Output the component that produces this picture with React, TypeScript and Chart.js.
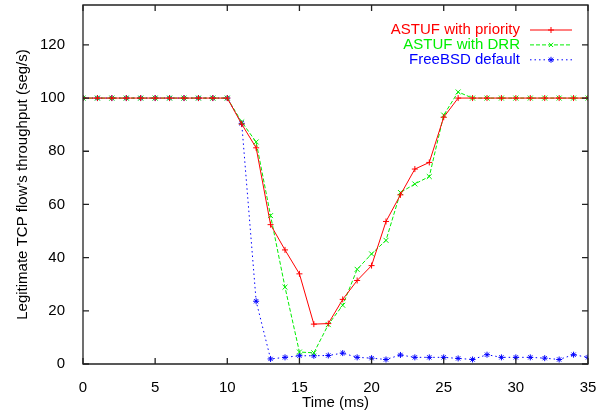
import React, { useEffect, useRef } from 'react';
import { Chart, registerables } from 'chart.js';

Chart.register(...registerables);

const times = [0, 1, 2, 3, 4, 5, 6, 7, 8, 9, 10, 11, 12, 13, 14, 15, 16, 17, 18, 19, 20, 21, 22, 23, 24, 25, 26, 27, 28, 29, 30, 31, 32, 33, 34, 35];
const priority = [100, 100, 100, 100, 100, 100, 100, 100, 100, 100, 100, 90.2, 81.3, 52.4, 42.9, 33.9, 15.0, 15.2, 24.3, 31.4, 37.0, 53.6, 63.6, 73.3, 75.8, 92.8, 100, 100, 100, 100, 100, 100, 100, 100, 100, 100];
const drr = [100, 100, 100, 100, 100, 100, 100, 100, 100, 100, 100, 91.0, 83.5, 55.8, 28.9, 4.5, 4.2, 14.8, 22.1, 35.6, 41.4, 46.5, 64.5, 67.7, 70.5, 93.6, 102.3, 100, 100, 100, 100, 100, 100, 100, 100, 100];
const freebsd = [100, 100, 100, 100, 100, 100, 100, 100, 100, 100, 100, 90.5, 23.6, 1.9, 2.5, 3.1, 3.1, 3.2, 4.1, 2.5, 2.2, 1.7, 3.4, 2.5, 2.5, 2.5, 2.1, 1.7, 3.5, 2.5, 2.5, 2.5, 2.2, 1.7, 3.5, 2.5];
const seriesNames = ['ASTUF with priority', 'ASTUF with DRR', 'FreeBSD default'];
const xTicks = [0, 5, 10, 15, 20, 25, 30, 35];
const yTicks = [0, 20, 40, 60, 80, 100, 120];

const FONT_FAMILY = "'Liberation Sans', Arial, Helvetica, sans-serif";

function drawMarker(ctx: CanvasRenderingContext2D, style: string, x: number, y: number, r: number) {
  ctx.beginPath();
  if (style === 'cross' || style === 'star') {
    ctx.moveTo(x - r, y); ctx.lineTo(x + r, y);
    ctx.moveTo(x, y - r); ctx.lineTo(x, y + r);
  }
  if (style === 'crossRot' || style === 'star') {
    const d = r * Math.SQRT1_2;
    ctx.moveTo(x - d, y - d); ctx.lineTo(x + d, y + d);
    ctx.moveTo(x - d, y + d); ctx.lineTo(x + d, y - d);
  }
  ctx.stroke();
}

const framePlugin = {
  id: 'gnuFrame',
  afterDatasetsDraw(chart: any) {
    const { ctx, chartArea, scales } = chart;
    const { left, right, top, bottom } = chartArea;
    ctx.save();
    ctx.strokeStyle = '#222';
    ctx.lineWidth = 1.3;
    ctx.setLineDash([]);
    ctx.beginPath();
    ctx.rect(left, top, right - left, bottom - top);
    ctx.stroke();
    const tl = 6;
    ctx.beginPath();
    for (const v of xTicks) {
      const px = scales.x.getPixelForValue(v);
      ctx.moveTo(px, bottom); ctx.lineTo(px, bottom - tl);
      ctx.moveTo(px, top); ctx.lineTo(px, top + tl);
    }
    for (const v of yTicks) {
      const py = scales.y.getPixelForValue(v);
      ctx.moveTo(left, py); ctx.lineTo(left + tl, py);
      ctx.moveTo(right, py); ctx.lineTo(right - tl, py);
    }
    ctx.stroke();

    // legend
    ctx.font = `15px ${FONT_FAMILY}`;
    ctx.textAlign = 'right';
    ctx.textBaseline = 'middle';
    chart.data.datasets.forEach((ds: any, i: number) => {
      const ly = 30 + i * 14.9;
      ctx.fillStyle = ds.borderColor;
      ctx.fillText(ds.label, 520, ly);
      ctx.strokeStyle = ds.borderColor;
      ctx.lineWidth = 1;
      ctx.setLineDash(ds.borderDash || []);
      ctx.beginPath();
      ctx.moveTo(530, ly); ctx.lineTo(572, ly);
      ctx.stroke();
      ctx.setLineDash([]);
      drawMarker(ctx, ds.pointStyle, 551, ly, 3);
    });
    ctx.restore();
  },
};

export default function App() {
  const canvasRef = useRef<HTMLCanvasElement | null>(null);

  useEffect(() => {
    document.body.style.margin = '0';
    const canvas = canvasRef.current;
    if (!canvas) return;
    const font = { family: FONT_FAMILY, size: 15 };
    const mk = (vals: number[]) => times.map((t, i) => ({ x: t, y: vals[i] }));
    const chart = new Chart(canvas, {
      type: 'line',
      data: {
        datasets: [
          {
            label: seriesNames[0], data: mk(priority), borderColor: '#ff0000', backgroundColor: '#ff0000',
            borderWidth: 1, pointStyle: 'cross', pointRadius: 3, pointBorderWidth: 1, borderDash: [], fill: false, tension: 0,
          },
          {
            label: seriesNames[1], data: mk(drr), borderColor: '#00ee00', backgroundColor: '#00ee00',
            borderWidth: 1, pointStyle: 'crossRot', pointRadius: 3.5, pointBorderWidth: 1, borderDash: [4, 2], fill: false, tension: 0,
          },
          {
            label: seriesNames[2], data: mk(freebsd), borderColor: '#0000ff', backgroundColor: '#0000ff',
            borderWidth: 1, pointStyle: 'star', pointRadius: 3, pointBorderWidth: 1, borderDash: [1.5, 3], fill: false, tension: 0,
          },
        ],
      } as any,
      options: {
        responsive: false,
        animation: false,
        devicePixelRatio: 1,
        layout: { padding: { left: 0, top: 3, right: 23, bottom: 0 } },
        plugins: { legend: { display: false }, tooltip: { enabled: false } },
        elements: { line: { borderCapStyle: 'butt' } },
        scales: {
          x: {
            type: 'linear', min: 0, max: 35,
            afterFit: (s: any) => { s.height = 49; s.paddingLeft = 0; s.paddingRight = 0; },
            afterBuildTicks: (s: any) => { s.ticks = xTicks.map((v) => ({ value: v })); },
            grid: { display: false },
            border: { display: false },
            ticks: { padding: 7, color: '#000', font, maxRotation: 0, autoSkip: false },
            title: { display: true, text: 'Time (ms)', color: '#000', font, padding: { top: 0, bottom: 1 } },
          },
          y: {
            type: 'linear', min: 0, max: 135,
            afterFit: (s: any) => { s.width = 83; s.paddingTop = 0; s.paddingBottom = 0; },
            afterBuildTicks: (s: any) => { s.ticks = yTicks.map((v) => ({ value: v })); },
            grid: { display: false },
            border: { display: false },
            ticks: { padding: 10, color: '#000', font, autoSkip: false },
            title: { display: true, text: "Legitimate TCP flow's throughput (seg/s)", color: '#000', font, padding: { top: 14, bottom: 0 } },
          },
        },
      } as any,
      plugins: [framePlugin],
    });
    return () => chart.destroy();
  }, []);

  return (
    <div style={{ position: 'absolute', left: 0, top: 0, width: 611, height: 413, background: '#fff' }}>
      <canvas ref={canvasRef} width={611} height={413} style={{ display: 'block' }} />
    </div>
  );
}
